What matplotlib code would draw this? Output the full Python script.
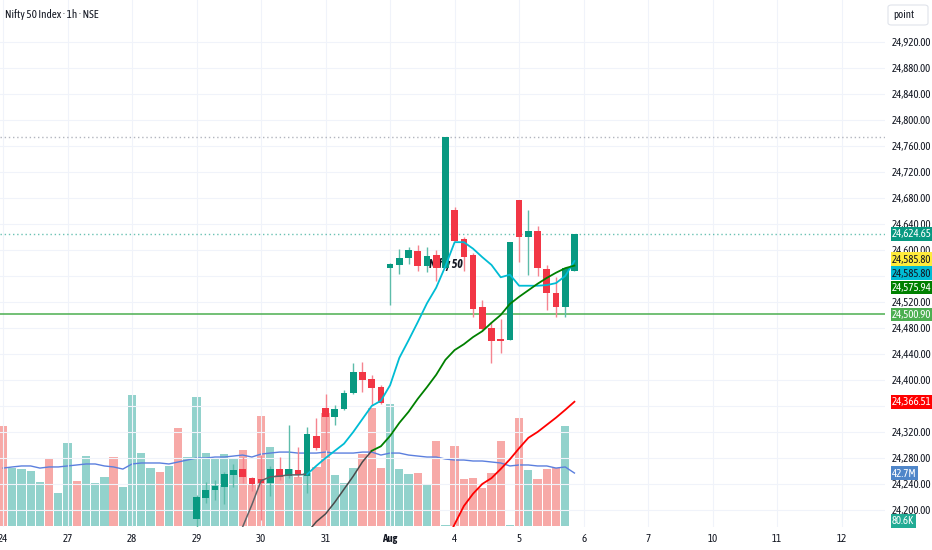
import numpy as np
import matplotlib.pyplot as plt
from matplotlib import font_manager, transforms
from matplotlib.patches import FancyBboxPatch

W, H = 932, 550

# ---- values (1h bars, 7 per session) ----
day_labels = ["24", "27", "28", "29", "30", "31", "Aug", "4", "5", "6", "7", "10", "11", "12"]
bars_per_day = 7

first_candle = 21  # earlier candles sit below the visible price range
opens = [24186, 24218, 24231, 24235, 24254, 24263, 24249, 24248, 24242, 24263, 24252, 24262,
         24252, 24314, 24357, 24343, 24355, 24380, 24412, 24401, 24389, 24572, 24577, 24588,
         24598, 24575, 24592, 24572, 24661, 24617, 24592, 24512, 24480, 24463, 24462, 24677,
         24620, 24629, 24571, 24534, 24512, 24568]
highs = [24223, 24243, 24246, 24258, 24271, 24282, 24251, 24285, 24268, 24282, 24331, 24297,
         24328, 24342, 24378, 24362, 24385, 24426, 24428, 24408, 24392, 24580, 24601, 24605,
         24608, 24605, 24600, 24774, 24666, 24620, 24595, 24523, 24489, 24494, 24612, 24677,
         24661, 24637, 24577, 24558, 24572, 24625]
lows = [24174, 24211, 24215, 24209, 24235, 24242, 24229, 24185, 24222, 24246, 24249, 24251,
        24226, 24292, 24292, 24331, 24354, 24378, 24382, 24362, 24363, 24515, 24563, 24578,
        24568, 24566, 24552, 24572, 24612, 24568, 24497, 24475, 24426, 24441, 24462, 24582,
        24561, 24560, 24508, 24497, 24497, 24568]
closes = [24220, 24231, 24237, 24255, 24262, 24251, 24240, 24242, 24263, 24251, 24263, 24254,
          24317, 24295, 24343, 24355, 24380, 24412, 24400, 24388, 24365, 24578, 24588, 24600,
          24575, 24591, 24572, 24774, 24614, 24589, 24509, 24478, 24460, 24460, 24612, 24620,
          24629, 24572, 24534, 24512, 24572, 24624.65]

# volume in millions, one per bar from the 24th
volume = [80.6, 46.7, 45.9, 44.3, 35.5, 54.0, 26.6,
          66.9, 36.3, 56.4, 34.7, 39.5, 55.6, 31.4,
          105.6, 58.8, 46.7, 43.5, 48.4, 79.0, 55.6,
          104.0, 58.8, 54.0, 58.0, 54.8, 61.3, 33.9,
          88.7, 63.7, 41.1, 45.9, 39.5, 42.7, 47.6,
          91.1, 41.1, 34.7, 46.7, 58.0, 95.1, 46.7,
          98.3, 45.9, 41.9, 42.7, 33.0, 68.5, 0.9,
          64.5, 37.9, 38.7, 30.6, 42.7, 68.5, 0.9,
          87.0, 45.1, 37.9, 45.9, 46.7, 80.6, 0.0806]
vol_up_early = [0, 1, 1, 1, 1, 0, 1,
                1, 0, 1, 1, 1, 0, 1,
                1, 1, 1, 0, 1, 0, 1]
vol_ma = [46.7, 47.6, 48.4, 48.4, 46.7, 47.6, 47.6,
          48.4, 49.2, 50.0, 50.0, 48.4, 47.6, 45.9,
          50.0, 50.8, 50.8, 50.8, 50.0, 51.6, 53.2,
          54.8, 54.8, 55.6, 55.6, 56.4, 57.2, 55.6,
          58.0, 58.8, 59.6, 59.6, 58.8, 58.8, 58.8,
          59.6, 58.8, 58.8, 58.8, 59.6, 59.6, 57.2,
          58.8, 58.8, 57.2, 56.4, 55.6, 55.6, 54.0,
          53.2, 53.2, 52.4, 52.4, 51.6, 50.8, 48.4,
          49.2, 49.2, 48.4, 48.4, 46.7, 47.6, 42.7]

fast_start, fast_dark_until = 25, 33
ma_fast = [24143, 24174, 24208, 24245, 24251, 24252, 24254, 24254, 24255, 24268, 24280,
           24291, 24302, 24320, 24340, 24360, 24368, 24392, 24434, 24461, 24489, 24518,
           24542, 24575, 24612, 24612, 24602, 24589, 24577, 24558, 24562, 24545, 24545,
           24545, 24546, 24549, 24560, 24583]
slow_start, slow_dark_until = 33, 40
ma_slow = [24165, 24182, 24194, 24212, 24232, 24252, 24274, 24291, 24298, 24314, 24334,
           24351, 24371, 24389, 24408, 24431, 24446, 24455, 24466, 24475, 24488, 24500,
           24517, 24528, 24538, 24548, 24557, 24565, 24572, 24575.94]
long_start = 48
ma_long = [24150, 24178, 24206, 24225, 24240, 24249, 24263, 24278, 24295, 24311, 24320,
           24331, 24342, 24354, 24366.51]

last_close = 24624.65
day_high = 24774
support = 24500.90
price_ticks = list(range(24200, 24960, 40))
hidden_ticks = [24360, 24560]  # covered by the badges on the price scale

# ---- fonts: the screenshot text is very narrow ----
names = {f.name for f in font_manager.fontManager.ttflist}
narrow = [n for n in ('Asap Condensed', 'Barlow Semi Condensed', 'Liberation Sans Narrow') if n in names]
plt.rcParams['font.family'] = narrow[:1] + ['DejaVu Sans']

UP, DOWN = '#089981', '#f23645'
UP_WICK, DOWN_WICK = '#5dbcaa', '#f5848f'
VOL_UP, VOL_DOWN = '#92d2cc', '#f7a9a7'
TXT = '#131722'
FS = 7.8

fig = plt.figure(figsize=(W / 100, H / 100), dpi=100)
ax = fig.add_axes([0, 23 / H, 885 / W, 527 / H])
axv = ax.twinx()
ax.set_zorder(axv.get_zorder() + 1)
ax.patch.set_visible(False)

# volume pane
vx = np.arange(len(volume))
up_all = list(vol_up_early) + [1 if c >= o else 0 for o, c in zip(opens, closes)]
axv.bar(vx, volume, width=0.9, color=[VOL_UP if u else VOL_DOWN for u in up_all], zorder=1)
axv.plot(vx, vol_ma, color='#5b7fde', lw=1, zorder=2)
axv.set_ylim(-0.8, 424)
axv.axis('off')

# price pane
ax.set_xlim(-0.33, 95.7)
ax.set_ylim(24173.8, 24984.6)
for s in ax.spines.values():
    s.set_visible(False)
ax.grid(True, color='#f0f3fa', lw=0.8, zorder=0)
ax.set_axisbelow(True)

ax.axhline(day_high, color='#b2b5be', lw=1, ls=(0, (1, 2)), zorder=1)
ax.axhline(last_close, color='#089981', lw=1, ls=(0, (1, 2)), alpha=0.6, zorder=1)
ax.axhline(support, color='#4caf50', lw=1.1, zorder=1)

ax.text(46.2, 24578, 'Nifty 50', fontsize=8.5, style='italic', fontweight='bold',
        color=TXT, va='center', ha='left', zorder=1.5)

cx = np.arange(first_candle, first_candle + len(opens))
o, h, l, c = map(np.array, (opens, highs, lows, closes))
up = c >= o
ax.vlines(cx, l, h, colors=np.where(up, UP_WICK, DOWN_WICK), lw=1, zorder=2)
body = np.where(np.abs(c - o) < 2, 2, c - o)
ax.bar(cx, body, bottom=o, width=0.72, color=np.where(up, UP, DOWN), zorder=3)

fx = np.arange(fast_start, fast_start + len(ma_fast))
k = fast_dark_until - fast_start
ax.plot(fx[:k + 1], ma_fast[:k + 1], color='#5f6368', lw=1.1, zorder=4)
ax.plot(fx[k:], ma_fast[k:], color='#00bcd4', lw=1.3, zorder=4)
sx = np.arange(slow_start, slow_start + len(ma_slow))
k = slow_dark_until - slow_start
ax.plot(sx[:k + 1], ma_slow[:k + 1], color='#4a4a4a', lw=1.1, zorder=4)
ax.plot(sx[k:], ma_slow[k:], color='#008000', lw=1.3, zorder=4)
lx = np.arange(long_start, long_start + len(ma_long))
ax.plot(lx, ma_long, color='#ff0000', lw=1.3, zorder=4)

# axes ticks
ax.set_xticks(np.arange(len(day_labels)) * bars_per_day)
ax.set_xticklabels(day_labels)
for t in ax.get_xticklabels():
    if t.get_text() == 'Aug':
        t.set_fontweight('bold')
ax.yaxis.tick_right()
ax.set_yticks(price_ticks)
ax.set_yticklabels(['' if v in hidden_ticks else f'{v:,.2f}' for v in price_ticks])
ax.tick_params(axis='both', length=0, labelsize=FS, colors=TXT)
ax.tick_params(axis='x', pad=4)
ax.tick_params(axis='y', pad=4.5)

# price-scale badges
def badge(axis, value, text, fc, tc, dy_px=0, x_px=892):
    tr = transforms.blended_transform_factory(fig.transFigure, axis.transData)
    tr = tr + transforms.ScaledTranslation(0, -dy_px / 100, fig.dpi_scale_trans)
    fig.text(x_px / W, value, text, transform=tr, fontsize=FS, color=tc,
             va='center', ha='left', zorder=10,
             bbox=dict(boxstyle='square,pad=0.12', fc=fc, ec='none'))

badge(ax, last_close, '24,624.65', '#089981', 'white')
badge(ax, 24585.80, '24,585.80', '#ffeb3b', TXT)
badge(ax, 24585.80, '24,585.80', '#00bcd4', TXT, dy_px=14)
badge(ax, ma_slow[-1], '24,575.94', '#008000', 'white', dy_px=22)
badge(ax, support, '24,500.90', '#4caf50', 'white')
badge(ax, ma_long[-1], '24,366.51', '#ff0000', 'white')
badge(axv, vol_ma[-1], '42.7M', '#4f86c9', 'white')
badge(axv, volume[-1], '80.6K', '#22ab94', 'white', dy_px=-5)

fig.text(5 / W, 1 - 15 / H, 'Nifty 50 Index · 1h · NSE', fontsize=FS + 0.2, color=TXT,
         va='center', ha='left')
fig.patches.append(FancyBboxPatch((888 / W, 1 - 25 / H), 40 / W, 20 / H,
                                  boxstyle='round,pad=0,rounding_size=0.004',
                                  transform=fig.transFigure, fc='white', ec='#e0e3eb', lw=0.8))
fig.text(893 / W, 1 - 14 / H, 'point', fontsize=FS, color=TXT, va='center', ha='left')

fig.savefig('out.png', dpi=100, facecolor='white')
